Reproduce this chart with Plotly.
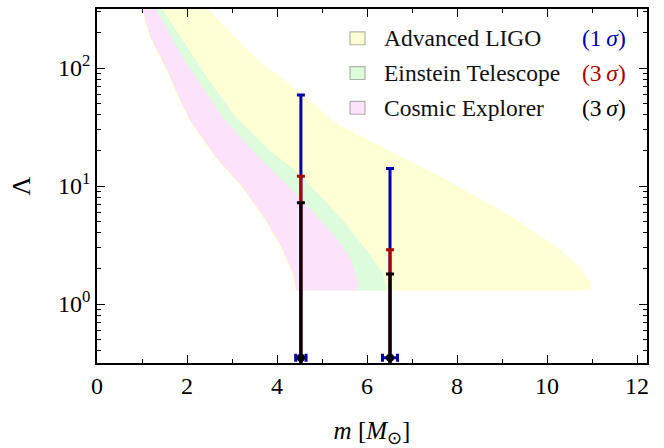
import plotly.graph_objects as go

# ---------------- data ----------------
# band boundaries: mass m [M_sun] vs tidal deformability Lambda
left_m = [1.00, 1.18, 1.55, 1.84, 2.07, 2.66, 3.25, 3.77, 4.14, 4.36, 4.44]
left_lam = [330, 189, 98.7, 55.2, 36.3, 17.3, 9.7, 5.08, 2.84, 1.81, 1.30]
ligo_left_m = [0.97, 1.15, 1.52, 1.81, 2.04, 2.63, 3.22, 3.74, 4.11, 4.33, 4.41]

ce_right_m = [1.28, 1.92, 2.81, 3.47, 4.51, 5.25, 5.62, 5.77, 5.81]
ce_right_lam = [330, 120, 37.5, 19.7, 7.9, 3.93, 2.50, 1.70, 1.30]

et_right_m = [1.42, 1.99, 2.51, 3.10, 3.86, 4.51, 5.47, 6.07, 6.36, 6.44]
et_right_lam = [330, 155, 76.3, 37.5, 19.7, 12.5, 5.08, 2.6, 1.81, 1.30]

ligo_right_m = [2.42, 3.03, 3.62, 4.22, 4.51, 5.25, 6.51, 7.62, 9.25, 10.22, 10.73, 10.95, 10.99]
ligo_right_lam = [330, 189, 112, 76.3, 62.9, 35.2, 19.7, 12.1, 5.42, 3.03, 2.06, 1.55, 1.30]

# error-bar points
masses = [4.53, 6.51]
point_lam = [0.35, 0.35]
ligo_upper = [59.0, 14.1]    # 1 sigma
et_upper = [12.1, 2.88]      # 3 sigma
ce_upper = [7.2, 1.80]       # 3 sigma
ligo_mass_err = [0.115, 0.167]
lower_end = [0.2, 0.2]

detectors = ["Advanced LIGO", "Einstein Telescope", "Cosmic Explorer"]
sigmas = ["(1\u2009<i>σ</i>)", "(3\u2009<i>σ</i>)", "(3\u2009<i>σ</i>)"]

# ---------------- style ----------------
band_colors = ["#FFFFD5", "#DCFCDC", "#FCE2FA"]
sigma_colors = ["#0000AA", "#B00000", "#000000"]
FONT = "Liberation Serif"

fig = go.Figure()


def band(lm, ll, rm, rl, color, name):
    xs = list(lm) + list(rm)[::-1]
    ys = list(ll) + list(rl)[::-1]
    fig.add_trace(go.Scatter(x=xs, y=ys, fill="toself", fillcolor=color,
                             mode="lines", line=dict(width=0, color=color),
                             name=name, showlegend=False, hoverinfo="skip"))


band(ligo_left_m, left_lam, ligo_right_m, ligo_right_lam, band_colors[0], detectors[0])
band(left_m, left_lam, et_right_m, et_right_lam, band_colors[1], detectors[1])
band(left_m, left_lam, ce_right_m, ce_right_lam, band_colors[2], detectors[2])

uppers = [ligo_upper, et_upper, ce_upper]
for i, up in enumerate(uppers):
    plus = [u - p for u, p in zip(up, point_lam)]
    minus = [p - l for p, l in zip(point_lam, lower_end)]
    kw = {}
    if i == 0:
        kw["error_x"] = dict(type="data", array=ligo_mass_err, color=sigma_colors[0],
                             thickness=3, width=4)
    fig.add_trace(go.Scatter(
        x=masses, y=point_lam, mode="markers",
        marker=dict(size=8 if i == 2 else 1, color=sigma_colors[i]),
        error_y=dict(type="data", symmetric=False, array=plus, arrayminus=minus,
                     color=sigma_colors[i], thickness=3, width=4),
        showlegend=False, hoverinfo="skip", **kw))

# ---------------- legend (swatches + text) ----------------
x0, x1 = 97, 647
y0, y1 = 6.5, 363


def px(xp):
    return (xp - x0) / (x1 - x0)


def py(yp):
    return (y1 - yp) / (y1 - y0)


rows = [36, 71, 106]
for i, r in enumerate(rows):
    fig.add_shape(type="rect", xref="paper", yref="paper",
                  x0=px(350), x1=px(365), y0=py(r + 6.5), y1=py(r - 6.5),
                  fillcolor=band_colors[i], line=dict(color="rgba(90,90,90,0.45)", width=1.2))
    fig.add_annotation(xref="paper", yref="paper", x=px(382), y=py(r),
                       text=detectors[i], showarrow=False, xanchor="left", yanchor="middle",
                       font=dict(family=FONT, size=23.5, color="#111"))
    fig.add_annotation(xref="paper", yref="paper", x=px(628), y=py(r),
                       text=sigmas[i], showarrow=False, xanchor="right", yanchor="middle",
                       font=dict(family=FONT, size=23.5, color=sigma_colors[i]))

minor_y = [v * 10 ** e for e in range(-1, 3) for v in range(2, 10)]
minor_y = [v for v in minor_y if 0.31 < v < 320]

axis_common = dict(showline=True, linecolor="black", linewidth=1.6, mirror="allticks",
                   ticks="inside", ticklen=8, tickwidth=1.3, tickcolor="black",
                   showgrid=False, zeroline=False,
                   tickfont=dict(family=FONT, size=24, color="black"))

fig.update_xaxes(range=[0, 12.22], tickvals=[0, 2, 4, 6, 8, 10, 12],
                 minor=dict(tickvals=[1, 3, 5, 7, 9, 11], ticks="inside", ticklen=4,
                            tickwidth=1.2, tickcolor="black"),
                 title=dict(text="<i>m</i> [<i>M</i><sub>⊙</sub>]", standoff=24,
                            font=dict(family=FONT, size=25, color="black")),
                 **axis_common)
fig.update_yaxes(type="log", range=[-0.5, 2.5], tickvals=[1, 10, 100],
                 ticktext=["10<sup>0</sup>", "10<sup>1</sup>", "10<sup>2</sup>"],
                 minor=dict(tickvals=minor_y, ticks="inside", ticklen=4,
                            tickwidth=1.2, tickcolor="black"),
                 title=dict(text="Λ", standoff=20,
                            font=dict(family=FONT, size=26, color="black")),
                 **axis_common)

fig.update_layout(width=664, height=448, margin=dict(l=97, r=17, t=7, b=85),
                  plot_bgcolor="white", paper_bgcolor="white",
                  font=dict(family=FONT))
fig.write_html("out.html")
